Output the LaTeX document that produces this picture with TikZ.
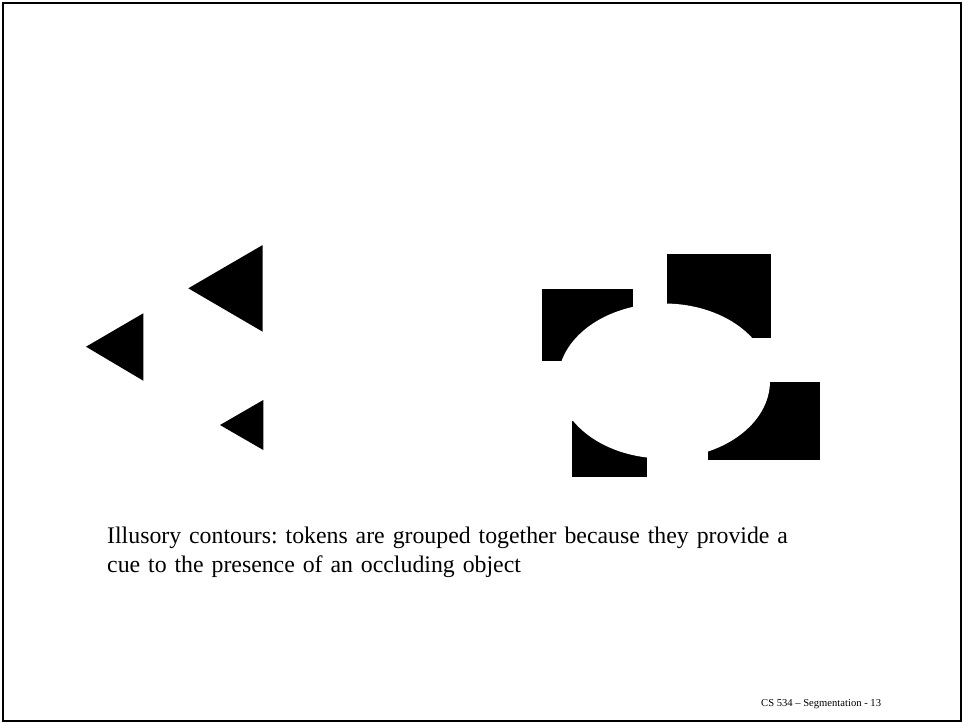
\documentclass[tikz,border=0pt]{standalone}
\usepackage{fontspec}
\setmainfont{Liberation Serif}
\frenchspacing
\usetikzlibrary{positioning}
\tikzset{
    frame/.style={draw=black, line width=2pt},
    token/.style={fill=black},
    occluder/.style={fill=white},
    caption/.style={inner sep=0pt, anchor=base west, align=left, text width=720pt, font=\fontsize{23.8}{29}\selectfont},
    footer/.style={inner sep=0pt, anchor=base west, font=\fontsize{10.6}{12}\selectfont}
}

\begin{document}
\begin{tikzpicture}[x=1pt, y=-1pt]
    % Page
    \useasboundingbox (0,0) rectangle (963,723);
    \draw [frame] (3,3) rectangle (961,721);

    % Triangle tokens
    \fill [token] (188.3,288.3) -- (262.7,245) -- (262.7,331.7) -- cycle;
    \fill [token] (86,346.7) -- (143.3,313.3) -- (143.3,380.7) -- cycle;
    \fill [token] (220,425) -- (263.3,400) -- (263.3,450) -- cycle;

    % Square tokens
    \fill [token] (542.3,289.3) rectangle (632.7,361);
    \fill [token] (667.3,254.3) rectangle (771.3,338.3);
    \fill [token] (708.3,381.7) rectangle (820,460);
    \fill [token] (571.7,421) rectangle (646.7,476.7);

    % Occluding object
    \fill [occluder] (664,381) ellipse [x radius=106pt, y radius=77.5pt];

    % Texts
    \node (caption) [caption] at (107,543) {Illusory contours: tokens are grouped together because they provide a\\ cue to the presence of an occluding object};
    \node (footer) [footer] at (761,706.7) {CS 534 -- Segmentation - 13};
\end{tikzpicture}
\end{document}
